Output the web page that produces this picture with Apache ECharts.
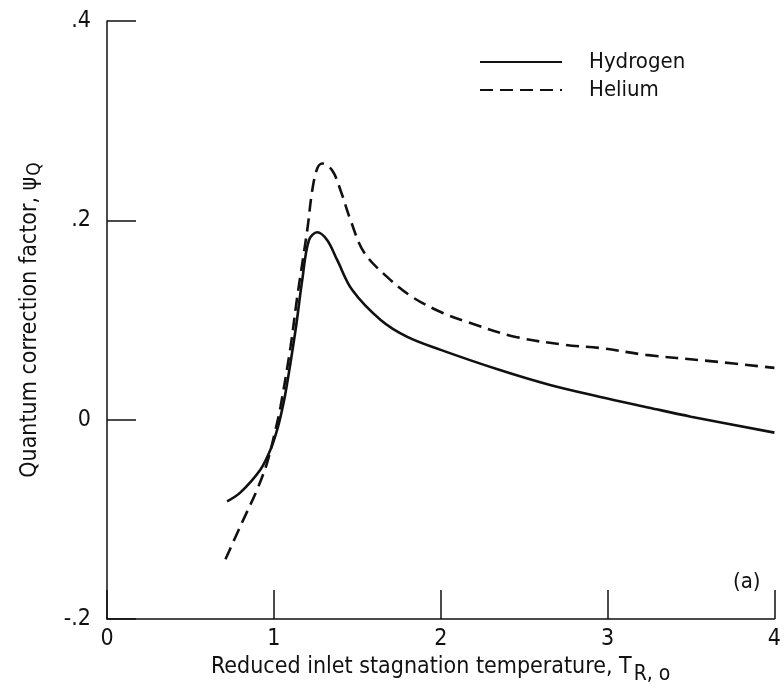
<!DOCTYPE html>
<html>
<head>
<meta charset="utf-8">
<script src="https://cdn.jsdelivr.net/npm/echarts@6/dist/echarts.min.js"></script>
<style>
  html, body { margin: 0; padding: 0; background: #fff; }
  #chart { width: 784px; height: 696px; }
</style>
</head>
<body>
<div id="chart"></div>
<script>
  // values: [reduced temperature, correction factor]
  var hydrogen = [
    [0.72, -0.082], [0.80, -0.073], [0.92, -0.050], [0.98, -0.030], [1.02, -0.010],
    [1.04, 0.003], [1.07, 0.027], [1.13, 0.090], [1.17, 0.140], [1.21, 0.180],
    [1.26, 0.188], [1.32, 0.180], [1.38, 0.160], [1.47, 0.130], [1.64, 0.100],
    [1.80, 0.083], [2.0, 0.070], [2.35, 0.050], [2.65, 0.035], [2.95, 0.023],
    [3.25, 0.012], [3.5, 0.003], [4.0, -0.013]
  ];
  var helium = [
    [0.71, -0.140], [0.81, -0.103], [0.90, -0.070], [0.96, -0.043], [1.01, -0.010],
    [1.04, 0.013], [1.10, 0.073], [1.14, 0.123], [1.20, 0.190], [1.23, 0.230],
    [1.26, 0.252], [1.29, 0.257], [1.35, 0.250], [1.40, 0.230], [1.46, 0.200],
    [1.54, 0.168], [1.68, 0.143], [1.83, 0.123], [2.0, 0.108], [2.16, 0.098],
    [2.45, 0.083], [2.75, 0.075], [2.95, 0.072], [3.23, 0.065], [3.6, 0.059], [4.0, 0.052]
  ];
  var seriesNames = ['Hydrogen', 'Helium'];
  var yTickLabels = { '-0.2': '-.2', '0': '0', '0.2': '.2', '0.4': '.4' };

  var ink = '#111';
  var font = '"Liberation Sans Narrow", "DejaVu Sans Condensed", sans-serif';

  var chart = echarts.init(document.getElementById('chart'));

  var option = {
    animation: false,
    backgroundColor: '#fff',
    textStyle: { fontFamily: font, color: ink },
    grid: { left: 107, right: 9, top: 21, bottom: 77 },
    legend: {
      orient: 'vertical',
      left: 474,
      top: 46,
      itemWidth: 82,
      itemHeight: 20,
      itemGap: 6,
      itemStyle: { opacity: 0 },
      textStyle: { fontFamily: font, fontSize: 22, color: ink, padding: [0, 0, 0, 22] },
      data: seriesNames
    },
    xAxis: {
      type: 'value',
      min: 0,
      max: 4,
      interval: 1,
      name: 'Reduced inlet stagnation temperature, T{sub|R, o}',
      nameLocation: 'middle',
      nameGap: 28,
      nameTextStyle: {
        fontFamily: font, fontSize: 23, color: ink,
        rich: { sub: { fontFamily: font, fontSize: 21, color: ink, padding: [14, 0, 0, 2] } }
      },
      axisLine: { onZero: false, lineStyle: { color: ink, width: 1.5 } },
      axisTick: { inside: true, length: 29, lineStyle: { color: ink, width: 1.5 } },
      axisLabel: { fontFamily: font, fontSize: 23, color: ink, margin: 9 },
      splitLine: { show: false }
    },
    yAxis: {
      type: 'value',
      min: -0.2,
      max: 0.4,
      interval: 0.2,
      name: 'Quantum correction factor, \u03c8{sub|Q}',
      nameLocation: 'middle',
      nameGap: 62,
      nameRotate: 90,
      nameTextStyle: {
        fontFamily: font, fontSize: 23, color: ink,
        rich: { sub: { fontFamily: font, fontSize: 19, color: ink, padding: [10, 0, 0, 1] } }
      },
      axisLine: { onZero: false, lineStyle: { color: ink, width: 1.5 } },
      axisTick: { inside: true, length: 29, lineStyle: { color: ink, width: 1.5 } },
      axisLabel: {
        fontFamily: font, fontSize: 23, color: ink, margin: 16,
        formatter: function (v) {
          var key = String(Math.round(v * 10) / 10);
          return yTickLabels[key] !== undefined ? yTickLabels[key] : key;
        }
      },
      splitLine: { show: false }
    },
    series: [
      {
        name: seriesNames[0],
        type: 'line',
        data: hydrogen,
        smooth: 0.35,
        showSymbol: false,
        symbol: 'none',
        lineStyle: { color: ink, width: 2.6, type: 'solid' },
        itemStyle: { color: ink }
      },
      {
        name: seriesNames[1],
        type: 'line',
        data: helium,
        smooth: 0.35,
        showSymbol: false,
        symbol: 'none',
        lineStyle: { color: ink, width: 2.6, type: [13, 7] },
        itemStyle: { color: ink }
      }
    ],
    graphic: [
      {
        type: 'text',
        left: 733,
        top: 571,
        style: { text: '(a)', fontFamily: font, fontSize: 22, fill: ink }
      }
    ]
  };

  chart.setOption(option);
</script>
</body>
</html>
